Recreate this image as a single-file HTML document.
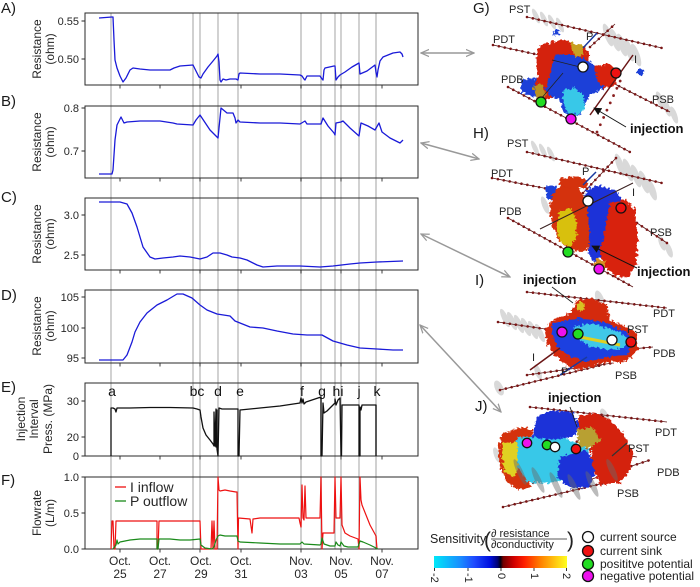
<!DOCTYPE html>
<html><head><meta charset="utf-8"><style>
html,body{margin:0;padding:0;background:#fff;}
svg{display:block;font-family:"Liberation Sans","DejaVu Sans",sans-serif;}
.fr{fill:none;stroke:#2a2a2a;stroke-width:1;}
.vl{stroke:#9a9a9a;stroke-width:0.9;}
.vll{stroke:#c4c4c4;stroke-width:1.6;}
.tk{stroke:#2a2a2a;stroke-width:0.9;}
.tl{font-size:11px;fill:#262626;text-anchor:end;}
.yl{font-size:12px;fill:#262626;text-anchor:middle;}
.pl{font-size:15px;fill:#1a1a1a;}
.xl{font-size:12px;fill:#262626;text-anchor:middle;}
.ev{font-size:14px;fill:#111;text-anchor:middle;}
.thin{fill:none;stroke:#5a1212;stroke-width:0.8;}
.dots{fill:none;stroke:#7a1616;stroke-width:2.6;stroke-dasharray:0 6;stroke-linecap:round;}
.lab{font-size:11px;fill:#222;}
.inj{font-size:13px;font-weight:bold;fill:#111;}
.ge{fill:#8a8a8a;opacity:0.32;}
.cc{stroke:#111;stroke-width:1.3;}
</style></head><body>
<svg width="700" height="587" viewBox="0 0 700 587" xmlns="http://www.w3.org/2000/svg">
<defs>
<filter id="rough" x="-10%" y="-10%" width="120%" height="120%">
<feTurbulence type="fractalNoise" baseFrequency="0.35" numOctaves="2" seed="3"/>
<feDisplacementMap in="SourceGraphic" scale="6" xChannelSelector="R" yChannelSelector="G"/>
</filter>
<marker id="ah" viewBox="0 0 10 10" refX="9" refY="5" markerWidth="9" markerHeight="9" markerUnits="userSpaceOnUse" orient="auto-start-reverse"><path d="M0,1 L9,5 L0,9" fill="none" stroke="#999" stroke-width="1.4"/></marker>
<marker id="bh" viewBox="0 0 10 10" refX="9" refY="5" markerWidth="8" markerHeight="8" markerUnits="userSpaceOnUse" orient="auto"><path d="M0,0 L10,5 L0,10 z" fill="#111"/></marker>
<linearGradient id="cb" x1="0" x2="1" y1="0" y2="0">
<stop offset="0" stop-color="#00e8f8"/>
<stop offset="0.2" stop-color="#1a8cff"/>
<stop offset="0.3" stop-color="#1f4cff"/>
<stop offset="0.42" stop-color="#0010e0"/>
<stop offset="0.48" stop-color="#000070"/>
<stop offset="0.5" stop-color="#000010"/>
<stop offset="0.52" stop-color="#700000"/>
<stop offset="0.6" stop-color="#d00000"/>
<stop offset="0.68" stop-color="#ff2000"/>
<stop offset="0.8" stop-color="#ff8000"/>
<stop offset="1" stop-color="#ffff20"/>
</linearGradient>
</defs>

<g>
<line class="vl" x1="111" y1="13" x2="111" y2="549"/>
<line class="vll" x1="193" y1="13" x2="193" y2="549"/>
<line class="vl" x1="200" y1="13" x2="200" y2="549"/>
<line class="vl" x1="218" y1="13" x2="218" y2="549"/>
<line class="vl" x1="238" y1="13" x2="238" y2="549"/>
<line class="vll" x1="301" y1="13" x2="301" y2="549"/>
<line class="vll" x1="321" y1="13" x2="321" y2="549"/>
<line class="vl" x1="335" y1="13" x2="335" y2="549"/>
<line class="vl" x1="341" y1="13" x2="341" y2="549"/>
<line class="vl" x1="359" y1="13" x2="359" y2="549"/>
<line class="vll" x1="376" y1="13" x2="376" y2="549"/>
</g>

<rect class="fr" x="85" y="13" width="333" height="72"/>
<rect class="fr" x="85" y="106" width="333" height="72"/>
<rect class="fr" x="85" y="198" width="333" height="72"/>
<rect class="fr" x="85" y="290" width="333" height="73"/>
<rect class="fr" x="85" y="383" width="333" height="73"/>
<rect class="fr" x="85" y="477" width="333" height="72"/>

<g class="tk">
<path d="M120,85v3.5M160,85v3.5M200,85v3.5M241,85v3.5M301,85v3.5M341,85v3.5M382,85v3.5
M120,178v3.5M160,178v3.5M200,178v3.5M241,178v3.5M301,178v3.5M341,178v3.5M382,178v3.5
M120,270v3.5M160,270v3.5M200,270v3.5M241,270v3.5M301,270v3.5M341,270v3.5M382,270v3.5
M120,363v3.5M160,363v3.5M200,363v3.5M241,363v3.5M301,363v3.5M341,363v3.5M382,363v3.5
M120,456v3.5M160,456v3.5M200,456v3.5M241,456v3.5M301,456v3.5M341,456v3.5M382,456v3.5
M120,549v3.5M160,549v3.5M200,549v3.5M241,549v3.5M301,549v3.5M341,549v3.5M382,549v3.5"/>
<path d="M81.5,21h3.5M81.5,59h3.5M81.5,108h3.5M81.5,151h3.5M81.5,215h3.5M81.5,255h3.5M81.5,297h3.5M81.5,328h3.5M81.5,358h3.5M81.5,401h3.5M81.5,437h3.5M81.5,456h3.5M81.5,477h3.5M81.5,513h3.5M81.5,549h3.5"/>
</g>

<g class="tl">
<text x="79" y="25">0.55</text><text x="79" y="63">0.50</text>
<text x="79" y="112">0.8</text><text x="79" y="155">0.7</text>
<text x="79" y="219">3.0</text><text x="79" y="259">2.5</text>
<text x="79" y="301">105</text><text x="79" y="332">100</text><text x="79" y="362">95</text>
<text x="79" y="405">30</text><text x="79" y="441">20</text><text x="79" y="460">0</text>
<text x="79" y="481">1.0</text><text x="79" y="517">0.5</text><text x="79" y="553">0.0</text>
</g>

<g class="yl">
<text transform="translate(41,49) rotate(-90)">Resistance</text>
<text transform="translate(54,49) rotate(-90)">(ohm)</text>
<text transform="translate(41,142) rotate(-90)">Resistance</text>
<text transform="translate(54,142) rotate(-90)">(ohm)</text>
<text transform="translate(41,234) rotate(-90)">Resistance</text>
<text transform="translate(54,234) rotate(-90)">(ohm)</text>
<text transform="translate(41,326) rotate(-90)">Resistance</text>
<text transform="translate(54,326) rotate(-90)">(ohm)</text>
<text transform="translate(25,419) rotate(-90)">Injection</text>
<text transform="translate(38,419) rotate(-90)">Interval</text>
<text transform="translate(52,419) rotate(-90)">Press. (MPa)</text>
<text transform="translate(41,513) rotate(-90)">Flowrate</text>
<text transform="translate(54,513) rotate(-90)">(L/m)</text>
</g>

<g class="pl">
<text x="1" y="13">A)</text>
<text x="1" y="106">B)</text>
<text x="1" y="202">C)</text>
<text x="1" y="300">D)</text>
<text x="1" y="392">E)</text>
<text x="1" y="485">F)</text>
</g>

<polyline fill="none" stroke="#1a1ad8" stroke-width="1.3" stroke-linejoin="round" points="99,18 112,17 113,17 114,40 115,60 117,68 120,76 123,82 126,78 130,70 133,68 140,69 150,70 160,70 170,70 174,68 180,66 193,65 196,71 199,77 201,78 203,74 208,67 213,61 217,56 218,54 219,62 220,80 221,82 223,79 226,80 230,79 236,79 238,80 239,74 240,73 260,74 280,74 300,75 302,76 304,79 305,80 307,76 320,76 322,79 323,80 324,70 325,68 334,66 335,66 336,80 338,77 340,75 345,72 352,67 359,63 360,74 367,71 375,65 376,72 377,77 378,70 380,61 383,57 393,53 400,52 402,54 403,57"/>
<polyline fill="none" stroke="#1a1ad8" stroke-width="1.3" stroke-linejoin="round" points="99,174 112,174 113,170 115,140 117,125 121,117 124,123 127,122 140,121 160,121 173,123 177,124 193,125 196,120 200,115 204,121 210,130 218,138 219,128 221,108 227,113 233,113 235,118 236,123 238,120 240,122 260,123 280,123 300,124 305,121 307,124 321,124 323,118 328,126 334,133 335,135 336,123 341,122 343,121 350,128 359,136 361,123 368,126 375,130 379,123 382,132 390,138 400,143 403,140"/>
<polyline fill="none" stroke="#1a1ad8" stroke-width="1.3" stroke-linejoin="round" points="99,202 120,202 127,204 132,213 137,227 143,247 150,257 155,259 163,258 173,257 180,256 190,257 200,259 207,257 213,253 220,253 227,255 232,257 240,258 247,260 257,265 263,267 277,266 300,266 320,267 333,266 350,264 360,263 377,262 403,261"/>
<polyline fill="none" stroke="#1a1ad8" stroke-width="1.3" stroke-linejoin="round" points="99,360 123,360 127,355 132,342 135,332 140,322 147,313 157,305 167,300 177,294 183,294 192,298 200,305 207,310 217,314 230,316 235,321 240,323 250,327 263,328 277,331 293,334 307,335 322,335 333,341 347,345 360,348 377,349 393,350 403,350"/>
<path fill="none" stroke="#111" stroke-width="1.3" stroke-linejoin="round" d="M111,456 L111,408 L113,408 L115,409 L116,412 L117,408 L130,408 L150,407.5 L170,407.5 L193,408 L197,409 L200,410 L201,417 L203,428 L206,435 L210,440 L213,444 L214,446 L214,412 L215,446 L216,409 L216,447 L217,410 L217,449 L218,456 L219,408 L222,409 L238,409 L238,456 L239,456 L240,410 L260,408 L280,406 L300,403 L301,398 L302,403 L303,399 L304,404 L306,402 L321,397 L321,456 L322,456 L323,403 L324,413 L327,411 L335,403 L335,399 L336,405 L338,400 L340,398 L341,456 L341.5,456 L342,405 L359,405 L359,456 L360,456 L360,407 L361,410 L362,405 L376,405 L376,456"/>
<g class="ev">
<text x="112" y="396">a</text><text x="197" y="396">bc</text><text x="218" y="396">d</text><text x="240" y="396">e</text>
<text x="302" y="396">f</text><text x="322" y="396">g</text><text x="338" y="396">hi</text><text x="359" y="396">j</text><text x="377" y="396">k</text>
</g>
<polyline fill="none" stroke="#ee1111" stroke-width="1.2" stroke-linejoin="round" points="111,549 112,521 113,521 114,549 115,549 116,521 157,521 157,549 158,549 159,521 200,521 201,549 211,549 212,521 213,549 214,521 215,549 217,549 218,477 219,490 220,491 225,490 230,491 236,492 237,492 238,549 238.5,518 250,519 252,533 253,519 260,518 270,518 280,518 299,518 300,523 301,527 302,485 303,518 304,520 305,486 306,518 320,518 321,477 322,549 323,533 334,533 335,477 336,518 340,518 341,477 342,525 345,533 350,536 358,539 359,549 360,477 361,500 362,505 370,525 376,536 377,549"/>
<polyline fill="none" stroke="#1a8a1a" stroke-width="1.2" stroke-linejoin="round" points="113,549 116,545 117,540 118,544 120,542 125,541 130,540 140,539 150,539 157,539 157,549 158,549 159,539 170,539 180,540 190,540 200,539 201,545 205,548 212,549 214,547 216,540 218,536 220,535 225,536 237,536 238,541 240,542 260,543 280,544 300,544 302,542 304,544 320,545 321,544 322,538 324,544 330,546 335,546 336,542 338,545 340,546 341,542 344,546 348,547 358,547 360,541 363,542 370,545 376,548 378,549"/>
<line x1="115" y1="487" x2="126" y2="487" stroke="#ee1111" stroke-width="1.3"/>
<text x="130" y="492" font-size="14" fill="#262626">I inflow</text>
<line x1="115" y1="501" x2="126" y2="501" stroke="#1a8a1a" stroke-width="1.3"/>
<text x="130" y="506" font-size="14" fill="#262626">P outflow</text>
<g class="xl">
<text x="120" y="565">Oct.</text><text x="120" y="578">25</text>
<text x="160" y="565">Oct.</text><text x="160" y="578">27</text>
<text x="201" y="565">Oct.</text><text x="201" y="578">29</text>
<text x="241" y="565">Oct.</text><text x="241" y="578">31</text>
<text x="301" y="565">Nov.</text><text x="301" y="578">03</text>
<text x="341" y="565">Nov.</text><text x="341" y="578">05</text>
<text x="382" y="565">Nov.</text><text x="382" y="578">07</text>
</g>

<g stroke="#999" stroke-width="1.5" fill="none">
<line x1="421" y1="53" x2="474" y2="53" marker-start="url(#ah)" marker-end="url(#ah)"/>
<line x1="421" y1="143" x2="479" y2="159" marker-start="url(#ah)" marker-end="url(#ah)"/>
<line x1="421" y1="234" x2="510" y2="277" marker-start="url(#ah)" marker-end="url(#ah)"/>
<line x1="420" y1="325" x2="501" y2="412" marker-start="url(#ah)" marker-end="url(#ah)"/>
</g>

<!-- G -->
<g class="ge">
<ellipse cx="536" cy="16" rx="2.5" ry="8" transform="rotate(-25 536 16)"/>
<ellipse cx="544" cy="19" rx="2.5" ry="8" transform="rotate(-25 544 19)"/>
<ellipse cx="552" cy="22" rx="2.5" ry="8" transform="rotate(-25 552 22)"/>
<ellipse cx="560" cy="25" rx="2.5" ry="8" transform="rotate(-25 560 25)"/>
<ellipse cx="608" cy="35" rx="3.5" ry="12" transform="rotate(-20 608 35)"/>
<ellipse cx="615" cy="40" rx="3.5" ry="12" transform="rotate(-20 615 40)"/>
<ellipse cx="622" cy="45" rx="3.5" ry="12" transform="rotate(-20 622 45)"/>
<ellipse cx="629" cy="50" rx="3.5" ry="12" transform="rotate(-20 629 50)"/>
<ellipse cx="636" cy="55" rx="3.5" ry="12" transform="rotate(-20 636 55)"/>
<ellipse cx="660" cy="100" rx="3" ry="9" transform="rotate(-20 660 100)"/>
<ellipse cx="667" cy="108" rx="3" ry="9" transform="rotate(-20 667 108)"/>
<ellipse cx="674" cy="115" rx="3" ry="9" transform="rotate(-20 674 115)"/>
</g>
<path class="thin" d="M527,17 L662,48 M493,45 L600,68 M508,87 L630,152 M603,78 L670,112 M590,47 L615,24"/>
<path class="dots" d="M527,17 L662,48 M493,45 L600,68 M508,87 L630,152 M603,78 L670,112 M590,47 L615,24"/>
<path fill="none" stroke="#8a2020" stroke-width="2.8" stroke-dasharray="0 8" stroke-linecap="round" d="M597,132 L622,77"/>
<g filter="url(#rough)">
<path fill="#1c3fd8" d="M520,80 L538,78 L545,90 L535,97 L522,93 Z"/>
<path fill="#d42010" d="M540,45 L552,42 L565,40 L575,44 L585,47 L590,55 L588,62 L578,60 L570,65 L565,75 L560,90 L553,97 L545,100 L537,95 L535,85 L538,75 L536,62 Z"/>
<path fill="#1c3fd8" d="M555,55 L575,55 L590,62 L600,70 L608,75 L612,85 L600,90 L590,95 L585,105 L580,115 L570,117 L562,110 L560,100 L550,95 L545,90 L548,80 L552,68 Z"/>
<path fill="#38c8e8" d="M563,90 L575,88 L583,95 L585,108 L578,115 L568,113 L563,103 Z"/>
<path fill="#d82010" d="M595,66 L610,64 L618,72 L615,85 L605,88 L597,80 Z"/>
<path fill="#c8a020" d="M570,42 L582,45 L585,55 L575,57 Z"/>
<path fill="#b89020" d="M533,86 L543,84 L546,96 L536,99 Z"/>
<path fill="#1c3fd8" d="M554,30 L560,30 L559,36 L553,35 Z"/>
<path fill="#1c3fd8" d="M638,70 L644,70 L643,75 L637,74 Z"/>
</g>
<line x1="633" y1="55" x2="590" y2="115" stroke="#6a1515" stroke-width="1.5"/>
<line x1="597" y1="33" x2="583" y2="48" stroke="#1a3aa0" stroke-width="1.5"/>
<line x1="552" y1="60" x2="580" y2="67" stroke="#222" stroke-width="0.8"/>
<line x1="540" y1="100" x2="563" y2="73" stroke="#222" stroke-width="0.8"/>
<line x1="626" y1="127" x2="594" y2="108" stroke="#111" stroke-width="1" marker-end="url(#bh)"/>
<circle class="cc" cx="583" cy="67" r="5" fill="#fff"/>
<circle class="cc" cx="616" cy="73" r="5" fill="#ee1111"/>
<circle class="cc" cx="541" cy="102" r="5" fill="#22dd22"/>
<circle class="cc" cx="571" cy="119" r="5" fill="#ee11ee"/>
<text class="pl" x="473" y="13">G)</text>
<text class="lab" x="509" y="13">PST</text>
<text class="lab" x="493" y="43">PDT</text>
<text class="lab" x="501" y="83">PDB</text>
<text class="lab" x="586" y="40">P</text>
<text class="lab" x="634" y="63">I</text>
<text class="lab" x="652" y="103">PSB</text>
<text class="inj" x="630" y="133">injection</text>

<!-- H -->
<g class="ge">
<ellipse cx="535" cy="148" rx="2.5" ry="8" transform="rotate(-25 535 148)"/>
<ellipse cx="543" cy="151" rx="2.5" ry="8" transform="rotate(-25 543 151)"/>
<ellipse cx="551" cy="154" rx="2.5" ry="8" transform="rotate(-25 551 154)"/>
<ellipse cx="620" cy="165" rx="3.5" ry="12" transform="rotate(-20 620 165)"/>
<ellipse cx="628" cy="170" rx="3.5" ry="12" transform="rotate(-20 628 170)"/>
<ellipse cx="636" cy="176" rx="3.5" ry="12" transform="rotate(-20 636 176)"/>
<ellipse cx="644" cy="182" rx="3.5" ry="12" transform="rotate(-20 644 182)"/>
<ellipse cx="652" cy="190" rx="3.5" ry="11" transform="rotate(-20 652 190)"/>
<ellipse cx="662" cy="243" rx="3" ry="8" transform="rotate(-20 662 243)"/>
<ellipse cx="669" cy="250" rx="3" ry="8" transform="rotate(-20 669 250)"/>
<ellipse cx="545" cy="205" rx="3" ry="9" transform="rotate(-20 545 205)"/>
</g>
<path class="thin" d="M527,152 L662,183 M492,178 L590,197 M508,218 L633,287 M607,203 L667,243 M583,193 L617,157"/>
<path class="dots" d="M527,152 L662,183 M492,178 L590,197 M508,218 L633,287 M607,203 L667,243 M583,193 L617,157"/>
<g filter="url(#rough)">
<path fill="#1c3fd8" d="M545,187 L556,185 L558,198 L548,200 Z"/>
<path fill="#d43010" d="M555,190 L566,184 L578,188 L587,200 L590,217 L592,233 L590,247 L582,252 L570,250 L560,242 L553,228 L550,212 L551,198 Z"/>
<path fill="#d8c010" d="M559,212 L570,208 L577,220 L576,238 L570,247 L561,243 L557,228 Z"/>
<path fill="#1a30d8" d="M585,190 L600,185 L615,190 L622,200 L615,215 L612,235 L605,255 L595,262 L588,255 L590,235 L588,215 Z"/>
<path fill="#d82010" d="M610,203 L625,199 L635,210 L638,240 L636,265 L628,278 L615,276 L603,266 L600,250 L605,230 Z"/>
<path fill="#d43010" d="M560,178 L575,176 L588,180 L586,188 L570,188 L560,186 Z"/>
<path fill="#d89020" d="M596,258 L606,262 L603,272 L594,268 Z"/>
</g>
<line x1="633" y1="183" x2="540" y2="229" stroke="#3a2020" stroke-width="1"/>
<line x1="596" y1="172" x2="583" y2="185" stroke="#1a3aa0" stroke-width="1.5"/>
<line x1="637" y1="268" x2="592" y2="246" stroke="#111" stroke-width="1" marker-end="url(#bh)"/>
<circle class="cc" cx="588" cy="201" r="5" fill="#fff"/>
<circle class="cc" cx="621" cy="208" r="5" fill="#ee1111"/>
<circle class="cc" cx="568" cy="252" r="5" fill="#22dd22"/>
<circle class="cc" cx="599" cy="269" r="5" fill="#ee11ee"/>
<text class="pl" x="473" y="138">H)</text>
<text class="lab" x="507" y="147">PST</text>
<text class="lab" x="491" y="177">PDT</text>
<text class="lab" x="499" y="215">PDB</text>
<text class="lab" x="582" y="175">P</text>
<text class="lab" x="632" y="196">I</text>
<text class="lab" x="650" y="236">PSB</text>
<text class="inj" x="637" y="276">injection</text>

<!-- I -->
<g class="ge">
<ellipse cx="505" cy="318" rx="3" ry="10" transform="rotate(-25 505 318)"/>
<ellipse cx="512" cy="321" rx="3" ry="10" transform="rotate(-25 512 321)"/>
<ellipse cx="519" cy="324" rx="3" ry="10" transform="rotate(-25 519 324)"/>
<ellipse cx="526" cy="327" rx="3" ry="10" transform="rotate(-25 526 327)"/>
<ellipse cx="533" cy="330" rx="3" ry="10" transform="rotate(-25 533 330)"/>
<ellipse cx="540" cy="333" rx="3" ry="10" transform="rotate(-25 540 333)"/>
<ellipse cx="499" cy="388" rx="4" ry="8" transform="rotate(-25 499 388)"/>
<ellipse cx="600" cy="300" rx="4" ry="10" transform="rotate(-20 600 300)"/>
<ellipse cx="538" cy="372" rx="3" ry="8" transform="rotate(-20 538 372)"/>
</g>
<path class="thin" d="M527,292 L667,308 M498,322 L633,342 M590,353 L653,347 M527,375 L613,363 M500,390 L602,365"/>
<path class="dots" d="M527,292 L667,308 M498,322 L633,342 M590,353 L653,347 M527,375 L613,363 M500,390 L602,365"/>
<g filter="url(#rough)">
<path fill="#d42a10" d="M577,300 L590,298 L607,305 L610,320 L627,327 L637,333 L638,348 L632,357 L623,362 L607,362 L590,367 L577,370 L563,363 L553,353 L547,343 L545,330 L552,320 L570,313 L575,305 Z"/>
<path fill="#1a40e0" d="M553,323 L580,318 L607,323 L627,332 L633,343 L627,355 L607,357 L587,362 L570,357 L557,347 L552,333 Z"/>
<path fill="#40c8e8" d="M573,327 L593,323 L620,333 L630,340 L623,348 L607,350 L587,345 L575,337 Z"/>
<path fill="#d8c020" d="M577,302 L585,303 L584,311 L577,310 Z"/>
</g>
<line x1="580" y1="337" x2="620" y2="345" stroke="#e0d020" stroke-width="3"/>
<line x1="530" y1="370" x2="560" y2="348" stroke="#6a1515" stroke-width="1.5"/>
<line x1="560" y1="375" x2="587" y2="357" stroke="#1a3aa0" stroke-width="1.5"/>
<line x1="552" y1="287" x2="573" y2="303" stroke="#222" stroke-width="0.9"/>
<circle class="cc" cx="562" cy="332" r="5" fill="#ee11ee"/>
<circle class="cc" cx="578" cy="334" r="5" fill="#22dd22"/>
<circle class="cc" cx="612" cy="340" r="5" fill="#fff"/>
<circle class="cc" cx="631" cy="342" r="5" fill="#ee1111"/>
<text class="pl" x="475" y="285">I)</text>
<text class="inj" x="523" y="284">injection</text>
<text class="lab" x="653" y="317">PDT</text>
<text class="lab" x="627" y="333">PST</text>
<text class="lab" x="653" y="357">PDB</text>
<text class="lab" x="615" y="379">PSB</text>
<text class="lab" x="532" y="361">I</text>
<text class="lab" x="561" y="375">P</text>

<!-- J -->
<g class="ge">
<ellipse cx="605" cy="418" rx="4" ry="10" transform="rotate(-20 605 418)"/>
<ellipse cx="497" cy="455" rx="3" ry="8" transform="rotate(-20 497 455)"/>
</g>
<path class="thin" d="M530,407 L667,422 M513,437 L637,457 M580,483 L650,460 M503,507 L617,480 M603,417 L533,483"/>
<path class="dots" d="M530,407 L667,422 M513,437 L637,457 M580,483 L650,460 M503,507 L617,480 M603,417 L533,483"/>
<g filter="url(#rough)">
<path fill="#d43010" d="M503,433 L523,427 L533,430 L530,487 L520,490 L507,483 L500,467 L498,447 Z"/>
<path fill="#e0d020" d="M503,443 L517,442 L520,460 L515,477 L505,473 L502,457 Z"/>
<path fill="#38c8e8" d="M517,437 L563,437 L590,450 L587,473 L570,480 L547,483 L527,482 L518,467 Z"/>
<path fill="#1a30d8" d="M537,417 L553,410 L573,413 L580,427 L573,437 L547,440 L533,437 L535,423 Z"/>
<path fill="#1a30d8" d="M560,457 L587,450 L597,467 L590,487 L570,488 L557,477 Z"/>
<path fill="#d42010" d="M577,417 L593,413 L610,420 L623,433 L633,453 L630,470 L620,483 L600,485 L593,467 L590,447 L580,437 Z"/>
<path fill="#b8a030" d="M577,430 L593,427 L600,440 L590,448 L580,447 Z"/>
</g>
<g fill="#6a6a6a" opacity="0.45">
<ellipse cx="520" cy="472" rx="3" ry="14" transform="rotate(-25 520 472)"/>
<ellipse cx="538" cy="480" rx="3" ry="14" transform="rotate(-25 538 480)"/>
<ellipse cx="556" cy="485" rx="3" ry="14" transform="rotate(-25 556 485)"/>
<ellipse cx="574" cy="487" rx="3" ry="14" transform="rotate(-25 574 487)"/>
<ellipse cx="592" cy="484" rx="3" ry="14" transform="rotate(-25 592 484)"/>
<ellipse cx="612" cy="470" rx="3" ry="12" transform="rotate(-25 612 470)"/>
</g>
<line x1="570" y1="407" x2="577" y2="427" stroke="#222" stroke-width="0.9"/>
<line x1="627" y1="443" x2="612" y2="456" stroke="#333" stroke-width="1.2"/>
<circle class="cc" cx="527" cy="443" r="4.7" fill="#ee11ee"/>
<circle class="cc" cx="547" cy="445" r="4.7" fill="#22dd22"/>
<circle class="cc" cx="555" cy="447" r="4.7" fill="#fff"/>
<circle class="cc" cx="576" cy="449" r="4.7" fill="#ee1111"/>
<text class="pl" x="475" y="411">J)</text>
<text class="inj" x="548" y="402">injection</text>
<text class="lab" x="655" y="436">PDT</text>
<text class="lab" x="628" y="452">PST</text>
<text class="lab" x="657" y="476">PDB</text>
<text class="lab" x="617" y="497">PSB</text>

<!-- colorbar -->
<text x="430" y="543" font-size="12.5" fill="#222">Sensitivity</text>
<text x="484" y="547" font-size="21" fill="#222">(</text>
<text x="491" y="537" font-size="11" fill="#222">∂ resistance</text>
<line x1="491" y1="539" x2="567" y2="539" stroke="#222" stroke-width="0.8"/>
<text x="491" y="548" font-size="11" fill="#222">∂conductivity</text>
<text x="567" y="547" font-size="21" fill="#222">)</text>
<rect x="434" y="556" width="133" height="12" fill="url(#cb)"/>
<path d="M434.5,568v3M468,568v3M501,568v3M534,568v3M566.5,568v3" stroke="#222" stroke-width="0.9"/>
<g font-size="11" fill="#222">
<text transform="translate(431,573) rotate(90)">-2</text>
<text transform="translate(465,573) rotate(90)">-1</text>
<text transform="translate(498,573) rotate(90)">0</text>
<text transform="translate(531,573) rotate(90)">1</text>
<text transform="translate(563,573) rotate(90)">2</text>
</g>
<circle class="cc" cx="588" cy="537" r="5.5" fill="#fff"/>
<circle class="cc" cx="588" cy="551" r="5.5" fill="#ee1111"/>
<circle class="cc" cx="588" cy="564" r="5.5" fill="#22dd22"/>
<circle class="cc" cx="588" cy="576" r="5.5" fill="#ee11ee"/>
<g font-size="12" fill="#222">
<text x="600" y="541">current source</text>
<text x="600" y="555">current sink</text>
<text x="600" y="568">posititve potential</text>
<text x="600" y="580">negative potential</text>
</g>
</svg>
</body></html>
